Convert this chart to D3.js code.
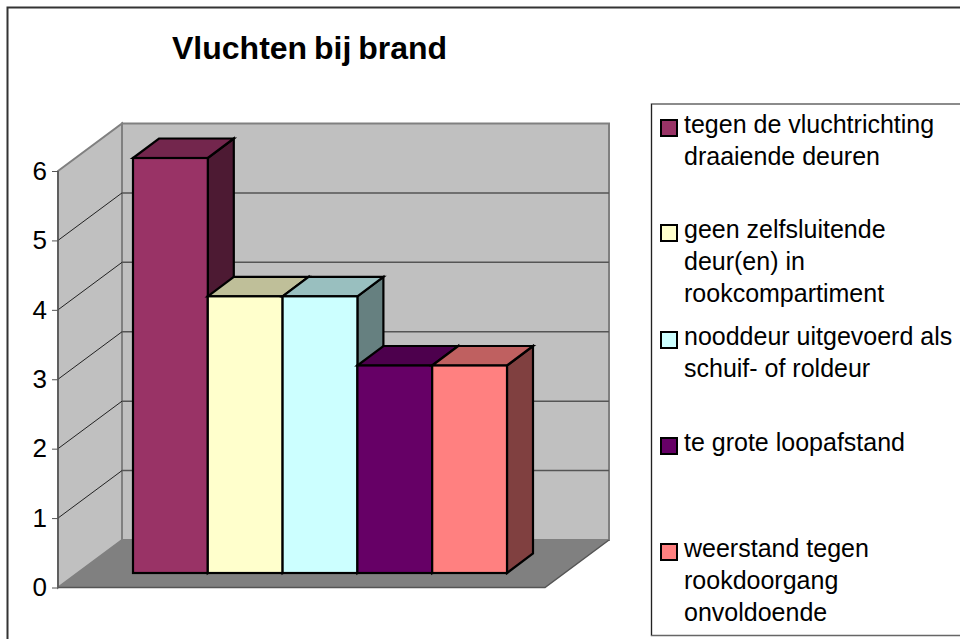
<!DOCTYPE html>
<html>
<head>
<meta charset="utf-8">
<title>Vluchten bij brand</title>
<script src="https://cdn.jsdelivr.net/npm/d3@7"></script>
<style>
	html, body { margin: 0; padding: 0; background: #fff; }
	svg { display: block; }
	text { font-family: "Liberation Sans", Arial, sans-serif; fill: #000; }
	.title { font-size: 32px; font-weight: bold; word-spacing: -2px; }
	.axis text { font-size: 26px; }
	.axis path { display: none; }
	.axis line { stroke: #555; stroke-width: 1; }
	.legend-text { font-size: 25px; }
</style>
</head>
<body>
<div id="chart"></div>
<script>
	var categories = [
		'tegen de vluchtrichting draaiende deuren',
		'geen zelfsluitende deur(en) in rookcompartiment',
		'nooddeur uitgevoerd als schuif- of roldeur',
		'te grote loopafstand',
		'weerstand tegen rookdoorgang onvoldoende'
	];
	var values = [6, 4, 4, 3, 3];
	var colors = ['#993366', '#ffffcc', '#ccffff', '#660066', '#ff8080'];
	var yTicks = [0, 1, 2, 3, 4, 5, 6];
	var legendLines = [
		['tegen de vluchtrichting', 'draaiende deuren'],
		['geen zelfsluitende', 'deur(en) in', 'rookcompartiment'],
		['nooddeur uitgevoerd als', 'schuif- of roldeur'],
		['te grote loopafstand'],
		['weerstand tegen', 'rookdoorgang', 'onvoldoende']
	];
	var legendFirstBaseline = [133, 238, 345, 451, 557];

	var width = 960,
		height = 639;

	// front plane of the 3d box, and how far the back wall is shifted
	var plot = { left: 58, right: 545, top: 171, bottom: 587.5 },
		wall = { dx: 64, dy: -47.5 },
		barDepth = { dx: 26, dy: -19.5 };

	var svg = d3.select('#chart')
		.append('svg')
		.attr('width', width)
		.attr('height', height);

	function shade(color, k) {
		var c = d3.rgb(color);
		return d3.rgb(c.r * k, c.g * k, c.b * k).formatHex();
	}

	function poly(points) {
		return 'M' + points.map(function (p) { return p[0] + ',' + p[1]; }).join('L') + 'Z';
	}

	// outer frame
	svg.append('path')
		.attr('d', 'M7.5,639V7.5H960')
		.attr('fill', 'none')
		.attr('stroke', '#333')
		.attr('stroke-width', 2);

	var yScale = d3.scaleLinear().domain([0, 6]).range([plot.bottom, plot.top]),
		barScale = d3.scaleLinear().domain([0, 6]).range([573, 158]),
		xScale = d3.scaleBand().domain(categories).range([133, 507]);

	// WALLS
	var lx = plot.left, rx = plot.right, by = yScale(0), ty = yScale(6);

	svg.append('path')
		.attr('d', poly([[lx + wall.dx, ty + wall.dy], [rx + wall.dx, ty + wall.dy], [rx + wall.dx, by + wall.dy], [lx + wall.dx, by + wall.dy]]))
		.attr('fill', '#c0c0c0')
		.attr('stroke', '#808080')
		.attr('stroke-width', 2);

	svg.append('path')
		.attr('d', poly([[lx, ty], [lx + wall.dx, ty + wall.dy], [lx + wall.dx, by + wall.dy], [lx, by]]))
		.attr('fill', '#c0c0c0')
		.attr('stroke', '#808080')
		.attr('stroke-width', 2);

	svg.append('path')
		.attr('d', poly([[lx, by], [rx, by], [rx + wall.dx, by + wall.dy], [lx + wall.dx, by + wall.dy]]))
		.attr('fill', '#808080');

	// GRID
	var grid = svg.append('g');

	yTicks.slice(1, -1).forEach(function (t) {
		grid.append('line')
			.attr('x1', lx).attr('y1', yScale(t))
			.attr('x2', lx + wall.dx).attr('y2', yScale(t) + wall.dy)
			.attr('stroke', '#222')
			.attr('stroke-width', 1);

		grid.append('line')
			.attr('x1', lx + wall.dx).attr('y1', yScale(t) + wall.dy)
			.attr('x2', rx + wall.dx).attr('y2', yScale(t) + wall.dy)
			.attr('stroke', '#555')
			.attr('stroke-width', 1.5);
	});

	svg.append('line')
		.attr('x1', lx).attr('x2', lx)
		.attr('y1', ty).attr('y2', by)
		.attr('stroke', '#555')
		.attr('stroke-width', 1.5);

	svg.append('path')
		.attr('d', 'M' + lx + ',' + by + 'H' + rx + 'L' + (rx + wall.dx) + ',' + (by + wall.dy))
		.attr('fill', 'none')
		.attr('stroke', '#555')
		.attr('stroke-width', 1.5);

	// AXIS
	svg.append('g')
		.attr('class', 'axis')
		.attr('transform', 'translate(' + lx + ',0)')
		.call(d3.axisLeft(yScale).tickValues(yTicks).tickSize(6).tickPadding(5).tickFormat(d3.format('d')));

	// BARS
	var bars = svg.append('g')
		.attr('stroke', '#000')
		.attr('stroke-width', 2.2)
		.attr('stroke-linejoin', 'miter');

	values.forEach(function (v, i) {
		var x0 = xScale(categories[i]),
			x1 = x0 + xScale.bandwidth(),
			y0 = barScale(0),
			y1 = barScale(v),
			g = bars.append('g');

		g.append('path')
			.attr('d', poly([[x1, y1], [x1 + barDepth.dx, y1 + barDepth.dy], [x1 + barDepth.dx, y0 + barDepth.dy], [x1, y0]]))
			.attr('fill', shade(colors[i], 0.5));

		g.append('path')
			.attr('d', poly([[x0, y1], [x1, y1], [x1 + barDepth.dx, y1 + barDepth.dy], [x0 + barDepth.dx, y1 + barDepth.dy]]))
			.attr('fill', shade(colors[i], 0.75));

		g.append('rect')
			.attr('x', x0)
			.attr('y', y1)
			.attr('width', x1 - x0)
			.attr('height', y0 - y1)
			.attr('fill', colors[i]);
	});

	// TITLE
	svg.append('text')
		.attr('class', 'title')
		.attr('x', 172)
		.attr('y', 59)
		.text('Vluchten bij brand');

	// LEGEND
	svg.append('path')
		.attr('d', 'M960,104H651.5V635.5H960')
		.attr('fill', '#fff')
		.attr('stroke', '#666')
		.attr('stroke-width', 1.5);

	svg.append('line')
		.attr('x1', 651.5).attr('x2', 651.5)
		.attr('y1', 104).attr('y2', 635)
		.attr('stroke', '#222')
		.attr('stroke-width', 1);

	categories.forEach(function (c, i) {
		var base = legendFirstBaseline[i];

		svg.append('rect')
			.attr('x', 661)
			.attr('y', base - 13)
			.attr('width', 16)
			.attr('height', 16)
			.attr('fill', colors[i])
			.attr('stroke', '#000')
			.attr('stroke-width', 2);

		svg.append('text')
			.attr('class', 'legend-text')
			.selectAll('tspan')
			.data(legendLines[i])
			.join('tspan')
			.attr('x', 684)
			.attr('y', function (d, j) { return base + j * 32; })
			.text(function (d) { return d; });
	});
</script>
</body>
</html>
